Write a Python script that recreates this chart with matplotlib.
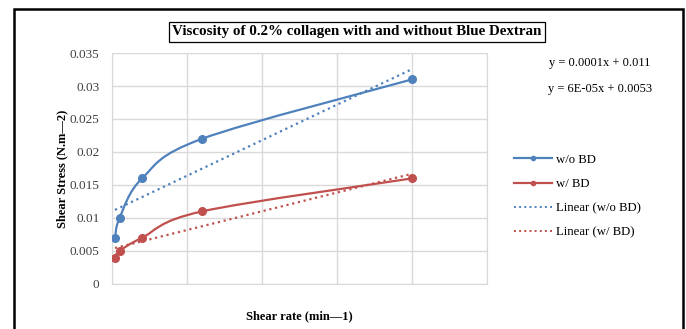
import matplotlib
matplotlib.use("Agg")
import matplotlib.pyplot as plt
from matplotlib.path import Path
from matplotlib.patches import PathPatch, Rectangle
from matplotlib.lines import Line2D
import numpy as np

plt.rcParams['font.family'] = ['Liberation Serif', 'DejaVu Serif']

# data
shear_rate = [2, 5, 20, 60, 200]
stress_wo_bd = [0.007, 0.010, 0.016, 0.022, 0.031]
stress_w_bd = [0.004, 0.005, 0.007, 0.011, 0.016]
series_names = ["w/o BD", "w/ BD"]
eq_labels = ["y = 0.0001x + 0.011", "y = 6E-05x + 0.0053"]

blue = "#4F81BD"
red = "#C0504D"


def smooth_path(xs, ys):
    # Excel style smoothed line: Catmull-Rom as cubic bezier
    pts = np.column_stack([xs, ys]).astype(float)
    p = np.vstack([pts[0], pts, pts[-1]])
    verts = [tuple(pts[0])]
    codes = [Path.MOVETO]
    for i in range(1, len(p) - 2):
        c1 = p[i] + (p[i + 1] - p[i - 1]) / 6
        c2 = p[i + 1] - (p[i + 2] - p[i]) / 6
        verts += [tuple(c1), tuple(c2), tuple(p[i + 1])]
        codes += [Path.CURVE4] * 3
    return Path(verts, codes)


fig = plt.figure(figsize=(6.86, 3.29), dpi=100)
ax = fig.add_axes([0.1633, 0.1368, 0.5467, 0.7021])

for ys, col in [(stress_wo_bd, blue), (stress_w_bd, red)]:
    ax.add_patch(PathPatch(smooth_path(shear_rate, ys), facecolor="none",
                           edgecolor=col, lw=1.6, zorder=3))
    ax.plot(shear_rate, ys, "o", color=col, ms=5.5, zorder=4)
    k, b = np.polyfit(shear_rate, ys, 1)
    xx = np.array([min(shear_rate), max(shear_rate)])
    ax.plot(xx, k * xx + b, ":", color=col, lw=1.6, zorder=2)

ax.set_xlim(0, 250)
ax.set_ylim(0, 0.035)
ax.set_xticks(np.arange(0, 251, 50))
ax.set_yticks(np.arange(0, 0.0351, 0.005))
ax.set_yticklabels(["0", "0.005", "0.01", "0.015", "0.02", "0.025", "0.03", "0.035"])
ax.tick_params(axis="x", labelbottom=False, length=0)
ax.tick_params(axis="y", length=0, labelsize=9.5, colors="#404040", pad=9)
ax.grid(True, color="#d9d9d9", lw=1)
for s in ax.spines.values():
    s.set_color("#d9d9d9")
ax.set_axisbelow(True)

ax.set_ylabel("Shear Stress (N.m\u20142)", fontweight="bold", fontsize=9, labelpad=1)
ax.set_xlabel("Shear rate (min\u20141)", fontweight="bold", fontsize=9, labelpad=19)

fig.text(0.52, 0.903, "Viscosity of 0.2% collagen with and without Blue Dextran",
         ha="center", va="center", fontsize=10.8, fontweight="bold",
         bbox=dict(facecolor="white", edgecolor="black", lw=0.9, pad=2.5))

fig.text(0.874, 0.81, eq_labels[0], ha="center", va="center", fontsize=9)
fig.text(0.874, 0.731, eq_labels[1], ha="center", va="center", fontsize=9)

handles = [
    Line2D([], [], color=blue, lw=1.6, marker="o", ms=3),
    Line2D([], [], color=red, lw=1.6, marker="o", ms=3),
    Line2D([], [], color=blue, lw=1.4, ls=":"),
    Line2D([], [], color=red, lw=1.4, ls=":"),
]
labels = series_names + ["Linear (" + n + ")" for n in series_names]
fig.legend(handles, labels, loc="upper left", bbox_to_anchor=(0.732, 0.567),
           frameon=False, fontsize=9.2, handlelength=3.0, handletextpad=0.3,
           labelspacing=0.95)

fig.patches.append(Rectangle((14 / 686, -0.1), (683 - 14) / 686, 1.1 - 9 / 329,
                             transform=fig.transFigure, fill=False,
                             edgecolor="black", lw=1.8))

fig.savefig("out.png", dpi=100)
